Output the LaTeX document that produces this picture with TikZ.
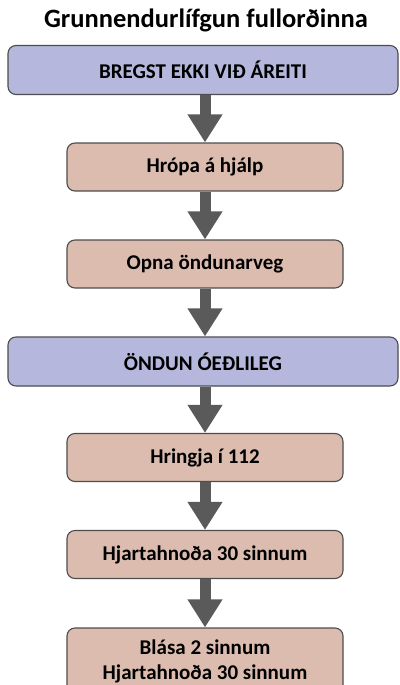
\documentclass[tikz,border=0pt]{standalone}
\usepackage{fontspec}
\setmainfont{Carlito}
\usetikzlibrary{arrows.meta}
\definecolor{bluebox}{HTML}{B5B8DC}
\definecolor{salmonbox}{HTML}{DBBCAF}
\definecolor{edgegray}{HTML}{4D4D4D}
\definecolor{arrowgray}{HTML}{5A5A5A}
\tikzset{
  boxbase/.style={draw=edgegray, line width=1.1pt, rounded corners=8pt, inner sep=0pt,
    font=\fontsize{21}{25}\selectfont\bfseries, text=black, align=center},
  widebox/.style={boxbase, fill=bluebox, minimum width=390pt, minimum height=49pt},
  narrowbox/.style={boxbase, fill=salmonbox, minimum width=276pt, minimum height=48pt},
  flowarrow/.style={draw=arrowgray, line width=11pt, -{Triangle[width=33pt,length=28pt]}, arrowgray}
}
\begin{document}
\begin{tikzpicture}[x=1pt,y=-1pt]
\useasboundingbox (0,0) rectangle (399,685);
\clip (0,0) rectangle (399,685);
\fill[white] (0,0) rectangle (399,685);
\node[font=\fontsize{26.5}{30}\selectfont\bfseries] (title) at (206,20) {Grunnendurlífgun fullorðinna};
\node[widebox] (b1) at (203,70) {BREGST EKKI VIÐ ÁREITI};
\node[narrowbox] (b2) at (205,167) {Hrópa á hjálp};
\node[narrowbox] (b3) at (205,264) {Opna öndunarveg};
\node[widebox] (b4) at (203,361.5) {ÖNDUN ÓEÐLILEG};
\node[narrowbox] (b5) at (205,457.5) {Hringja í 112};
\node[narrowbox] (b6) at (205,554.5) {Hjartahnoða 30 sinnum};
\node[narrowbox, minimum height=66pt] (b7) at (205,661) {Blása 2 sinnum\\Hjartahnoða 30 sinnum};
\draw[flowarrow] (b1.south -| b2.north) -- (b2.north);
\draw[flowarrow] (b2.south) -- (b3.north);
\draw[flowarrow] (b3.south) -- (b4.north -| b3.south);
\draw[flowarrow] (b4.south -| b5.north) -- (b5.north);
\draw[flowarrow] (b5.south) -- (b6.north);
\draw[flowarrow] (b6.south) -- (b7.north);
\end{tikzpicture}
\end{document}
